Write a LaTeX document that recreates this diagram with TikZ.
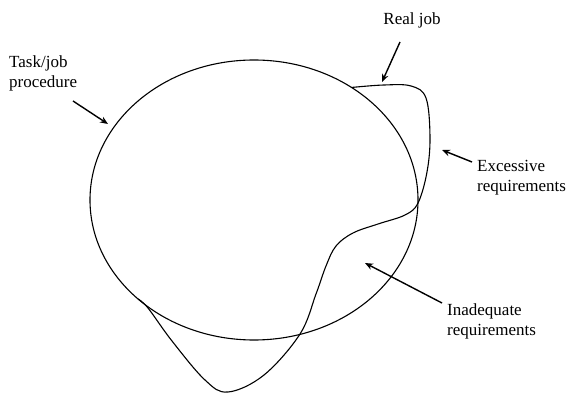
\documentclass[tikz,border=0pt]{standalone}
\usepackage{fontspec}
\setmainfont{Liberation Serif}
\usetikzlibrary{arrows.meta}

\begin{document}
\begin{tikzpicture}[
    x=1pt, y=1pt,
    outline/.style={draw=black, line width=1.1pt},
    pointer/.style={draw=black, line width=1.4pt, -{Stealth[length=8pt, width=6.5pt]}},
    label/.style={font=\fontsize{17}{20}\selectfont, inner sep=0pt, align=left, anchor=west}
]
\useasboundingbox (0,0) rectangle (571,394);

% Task/job procedure
\coordinate (centre) at (254,194);
\draw[outline] (centre) ellipse [x radius=164, y radius=140];

% Real job
\coordinate (start) at ([shift={(centre)}]53.5:164 and 140);
\coordinate (finish) at ([shift={(centre)}]225:164 and 140);
\draw[outline] plot[smooth, tension=0.6] coordinates {
    (start) (384,309) (411,308) (426,296) (430,257) (427,222) (418,191)
    (405,179) (378,170) (353,161) (336,148) (326,128) (316,100) (300,60)
    (264,19) (228,2) (205,14) (172,53) (148,86) (finish)};

% Labels
\node[label] (taskjob) at (9,321) {Task/job\\procedure};
\node[label, anchor=center] (realjob) at (412,374) {Real job};
\node[label] (excessive) at (477,216) {Excessive\\requirements};
\node[label] (inadequate) at (447,73) {Inadequate\\requirements};

% Arrow ends
\coordinate (taskjob tail) at (73,293);
\coordinate (taskjob tip) at (108,270);
\coordinate (realjob tail) at (400,352);
\coordinate (realjob tip) at (382,312);
\coordinate (excessive tail) at (472,232);
\coordinate (excessive tip) at (442,244);
\coordinate (inadequate tail) at (442,91);
\coordinate (inadequate tip) at (365,131);

% Arrows
\draw[pointer] (taskjob tail) -- (taskjob tip);
\draw[pointer] (realjob tail) -- (realjob tip);
\draw[pointer] (excessive tail) -- (excessive tip);
\draw[pointer] (inadequate tail) -- (inadequate tip);

\end{tikzpicture}
\end{document}
